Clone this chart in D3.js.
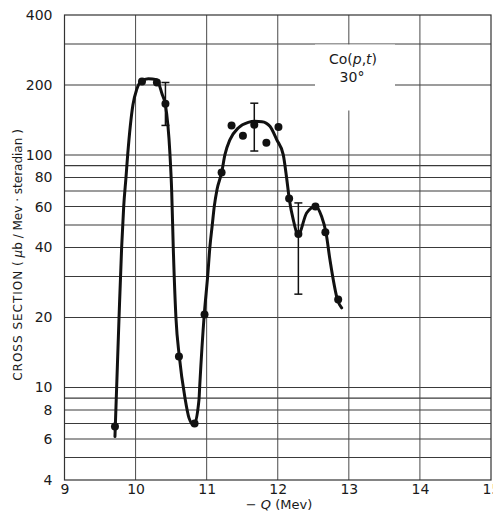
<!DOCTYPE html>
<html>
<head>
<meta charset="utf-8">
<script src="https://cdn.jsdelivr.net/npm/d3@7"></script>
<style>
  html, body { margin: 0; padding: 0; background: #fff; }
  svg { display: block; font-family: "DejaVu Sans", "Liberation Sans", sans-serif; }
</style>
</head>
<body>
<svg id="chart" width="493" height="521"></svg>
<script>
// Measured points: -Q (MeV) and cross section (µb/MeV·sr)
const pointQ     = [9.71, 10.09, 10.30, 10.42, 10.61, 10.83, 10.97, 11.21, 11.35, 11.51, 11.67, 11.84, 12.01, 12.16, 12.29, 12.53, 12.67, 12.85];
const pointSigma = [6.8, 207, 205, 166, 13.6, 7.0, 20.6, 84, 134, 121, 135, 113, 132, 65, 45.7, 60, 46.5, 23.9];

// Error bars: position, lower and upper limits
const errQ    = [10.42, 11.67, 12.29];
const errLow  = [134, 104, 25.2];
const errHigh = [205, 167, 62.2];

// Hand-drawn guide curve through the data
const curveQ     = [9.710, 9.734, 9.767, 9.804, 9.833, 9.865, 9.889, 9.963, 10.015, 10.076, 10.179, 10.297, 10.376, 10.418, 10.484, 10.508, 10.530, 10.568, 10.615, 10.695, 10.751, 10.821, 10.892, 10.902, 10.966, 11.014, 11.046, 11.079, 11.107, 11.145, 11.211, 11.257, 11.328, 11.444, 11.585, 11.679, 11.778, 11.890, 11.985, 12.077, 12.125, 12.162, 12.218, 12.288, 12.406, 12.533, 12.617, 12.678, 12.734, 12.843, 12.899];
const curveSigma = [6.16, 10.1, 19.9, 40.1, 60.1, 80.1, 100.3, 164.6, 191, 207.3, 212.9, 210.8, 181.6, 165.6, 100.3, 69.7, 40.1, 19.9, 13.6, 9.0, 7.4, 6.88, 8.86, 10.1, 20.6, 30.1, 40.4, 50.1, 60.1, 70.9, 84.2, 100.3, 116.4, 130.7, 138.1, 139.5, 139.1, 132.8, 116.4, 100.3, 79.6, 64.7, 52.7, 45.4, 56.3, 60.1, 54.4, 46.5, 35.5, 23.7, 22.0];

// Axis ticks and grid
const xTicks = [9, 10, 11, 12, 13, 14, 15];
const yTicks = [4, 6, 8, 10, 20, 40, 60, 80, 100, 200, 400];
const yGrid  = [5, 6, 7, 8, 9, 10, 20, 30, 40, 50, 60, 70, 80, 90, 100, 200, 300];
const xGrid  = [10, 11, 12, 13, 14];

const svg = d3.select("#chart");
const plotL = 64.5, plotR = 491, plotT = 15, plotB = 480;

const x = d3.scaleLinear().domain([9, 15]).range([plotL, plotR]);
const y = d3.scaleLog().domain([4, 400]).range([plotB, plotT]);

const ink = "#1a1a1a";

// grid
svg.append("g").selectAll("line").data(yGrid).join("line")
  .attr("x1", plotL).attr("x2", plotR)
  .attr("y1", d => y(d)).attr("y2", d => y(d))
  .attr("stroke", "#3a3a3a").attr("stroke-width", 1.1);
svg.append("g").selectAll("line").data(xGrid).join("line")
  .attr("x1", d => x(d)).attr("x2", d => x(d))
  .attr("y1", plotT).attr("y2", plotB)
  .attr("stroke", "#4a4a4a").attr("stroke-width", 1);

// frame
svg.append("rect")
  .attr("x", plotL).attr("y", plotT)
  .attr("width", plotR - plotL).attr("height", plotB - plotT)
  .attr("fill", "none").attr("stroke", "#333").attr("stroke-width", 1.2);

// reaction label with a blank patch behind it
svg.append("rect")
  .attr("x", 315).attr("y", 44.5).attr("width", 80).attr("height", 66)
  .attr("fill", "#fff");
const lab = svg.append("text")
  .attr("x", 353).attr("y", 64)
  .attr("text-anchor", "middle")
  .attr("font-size", 14).attr("fill", ink);
lab.append("tspan").text("Co(");
lab.append("tspan").attr("font-style", "italic").text("p");
lab.append("tspan").text(",");
lab.append("tspan").attr("font-style", "italic").text("t");
lab.append("tspan").text(")");
svg.append("text")
  .attr("x", 352).attr("y", 82)
  .attr("text-anchor", "middle")
  .attr("font-size", 14).attr("fill", ink)
  .text("30°");

// axes
const yAxis = d3.axisLeft(y).tickValues(yTicks).tickFormat(d3.format("d"))
  .tickSize(0).tickPadding(12);
const gy = svg.append("g").attr("transform", `translate(${plotL},0)`).call(yAxis);
gy.select(".domain").remove();
gy.selectAll("text").attr("font-size", 14).attr("fill", ink)
  .attr("font-family", "DejaVu Sans, sans-serif");

const xAxis = d3.axisBottom(x).tickValues(xTicks).tickFormat(d3.format("d"))
  .tickSize(0).tickPadding(4);
const gx = svg.append("g").attr("transform", `translate(0,${plotB})`).call(xAxis);
gx.select(".domain").remove();
gx.selectAll("text").attr("font-size", 14).attr("fill", ink)
  .attr("font-family", "DejaVu Sans, sans-serif");

// axis titles
const xt = svg.append("text")
  .attr("x", 279).attr("y", 509)
  .attr("text-anchor", "middle")
  .attr("font-size", 13).attr("fill", ink);
xt.append("tspan").text("− ");
xt.append("tspan").attr("font-style", "italic").text("Q");
xt.append("tspan").text(" (Mev)");

const yt = svg.append("text")
  .attr("transform", "translate(22,255) rotate(-90)")
  .attr("text-anchor", "middle")
  .attr("font-size", 12).attr("fill", ink);
yt.append("tspan").attr("letter-spacing", 1).text("CROSS SECTION");
yt.append("tspan").text("  ( ");
yt.append("tspan").attr("font-style", "italic").text("μ");
yt.append("tspan").text("b / Mev · steradian )");

// guide curve
const curveData = curveQ.map((q, i) => [q, curveSigma[i]]);
svg.append("path")
  .datum(curveData)
  .attr("d", d3.line().x(d => x(d[0])).y(d => y(d[1])).curve(d3.curveMonotoneX))
  .attr("fill", "none").attr("stroke", "#111").attr("stroke-width", 3)
  .attr("stroke-linecap", "round").attr("stroke-linejoin", "round");

// error bars
const errData = errQ.map((q, i) => ({ q, lo: errLow[i], hi: errHigh[i] }));
const eb = svg.append("g").attr("stroke", "#111").attr("stroke-width", 1.5);
eb.selectAll(".v").data(errData).join("line")
  .attr("x1", d => x(d.q)).attr("x2", d => x(d.q))
  .attr("y1", d => y(d.lo)).attr("y2", d => y(d.hi));
eb.selectAll(".t").data(errData).join("line")
  .attr("x1", d => x(d.q) - 4).attr("x2", d => x(d.q) + 4)
  .attr("y1", d => y(d.hi)).attr("y2", d => y(d.hi));
eb.selectAll(".b").data(errData).join("line")
  .attr("x1", d => x(d.q) - 4).attr("x2", d => x(d.q) + 4)
  .attr("y1", d => y(d.lo)).attr("y2", d => y(d.lo));

// data points
const pts = pointQ.map((q, i) => [q, pointSigma[i]]);
svg.append("g").selectAll("circle").data(pts).join("circle")
  .attr("cx", d => x(d[0])).attr("cy", d => y(d[1]))
  .attr("r", 4).attr("fill", "#111");
</script>
</body>
</html>
